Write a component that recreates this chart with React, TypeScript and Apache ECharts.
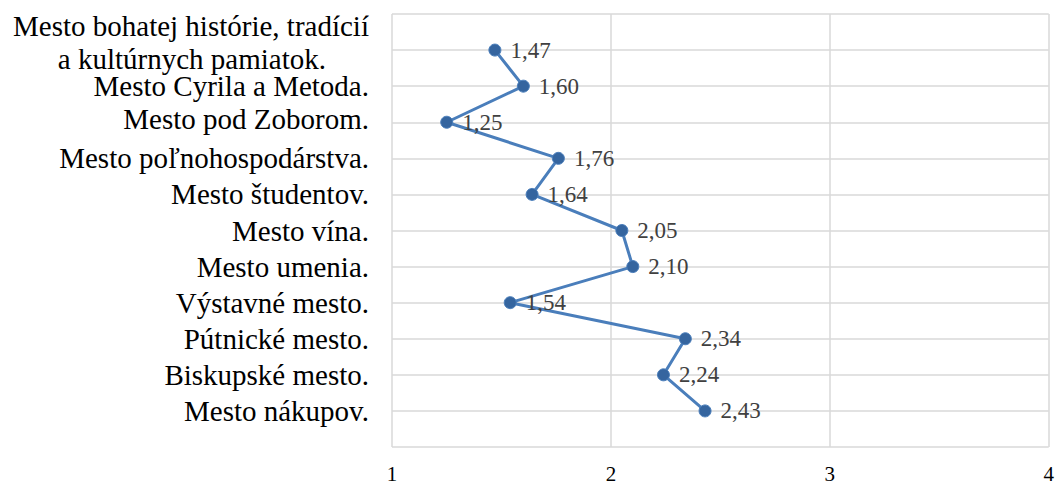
import React, { useEffect, useRef } from "react";
import * as echarts from "echarts";

const categories: string[] = [
  "Mesto bohatej histórie, tradícií\na kultúrnych pamiatok.",
  "Mesto Cyrila a Metoda.",
  "Mesto pod Zoborom.",
  "Mesto poľnohospodárstva.",
  "Mesto študentov.",
  "Mesto vína.",
  "Mesto umenia.",
  "Výstavné mesto.",
  "Pútnické mesto.",
  "Biskupské mesto.",
  "Mesto nákupov.",
];
const values: number[] = [1.47, 1.6, 1.25, 1.76, 1.64, 2.05, 2.1, 1.54, 2.34, 2.24, 2.43];
const xTicks: number[] = [1, 2, 3, 4];

export default function App() {
  const ref = useRef<HTMLDivElement>(null);
  useEffect(() => {
    if (!ref.current) return;
    const chart = echarts.init(ref.current, undefined, { renderer: "svg" });
    const font = "'Liberation Serif', 'Times New Roman', serif";
    const fs = 29;
    chart.setOption({
      animation: false,
      grid: { left: 392, right: 6, top: 14, bottom: 37, containLabel: false },
      xAxis: {
        type: "value",
        min: xTicks[0],
        max: xTicks[xTicks.length - 1],
        interval: 1,
        axisLine: { show: false },
        axisTick: { show: false },
        axisLabel: { fontFamily: font, fontSize: 21, color: "#000", margin: 16 },
        splitLine: { show: true, lineStyle: { color: "#d9d9d9", width: 1.5 } },
      },
      yAxis: {
        type: "value",
        inverse: true,
        min: 0,
        max: categories.length + 1,
        interval: 1,
        axisLine: { show: false },
        axisTick: { show: false },
        splitLine: { show: true, lineStyle: { color: "#d9d9d9", width: 1.5 } },
        axisLabel: {
          fontFamily: font,
          fontSize: fs,
          color: "#000",
          margin: 23,
          formatter: (v: number) => {
            const c = categories[v - 1];
            if (!c) return "";
            if (v === 1) {
              const [a, b] = c.split("\n");
              return `{a|${a}}\n{b|${b}}`;
            }
            if (v === 3) return `{c|${c}}`;
            return c;
          },
          rich: {
            a: { fontFamily: font, fontSize: fs, color: "#000", lineHeight: 33, padding: [0, 0, 16, 0] },
            b: { fontFamily: font, fontSize: fs, color: "#000", lineHeight: 33, padding: [0, 43, 16, 0] },
            c: { fontFamily: font, fontSize: fs, color: "#000", padding: [0, 0, 6, 0] },
          },
        },
      },
      series: [
        {
          type: "line",
          data: values.map((v, i) => [v, i + 1]),
          symbol: "circle",
          symbolSize: 12,
          lineStyle: { color: "#4a7ebb", width: 3 },
          itemStyle: { color: "#35659f", borderColor: "#4a7ebb", borderWidth: 1 },
          label: {
            show: true,
            position: "right",
            distance: 9,
            fontFamily: font,
            fontSize: 23,
            color: "#404040",
            formatter: (p: any) => p.value[0].toFixed(2).replace(".", ","),
          },
        },
      ],
    });
    return () => chart.dispose();
  }, []);
  return (
    <div
      ref={ref}
      style={{ position: "absolute", left: 0, top: 0, width: 1057, height: 484 }}
    />
  );
}
